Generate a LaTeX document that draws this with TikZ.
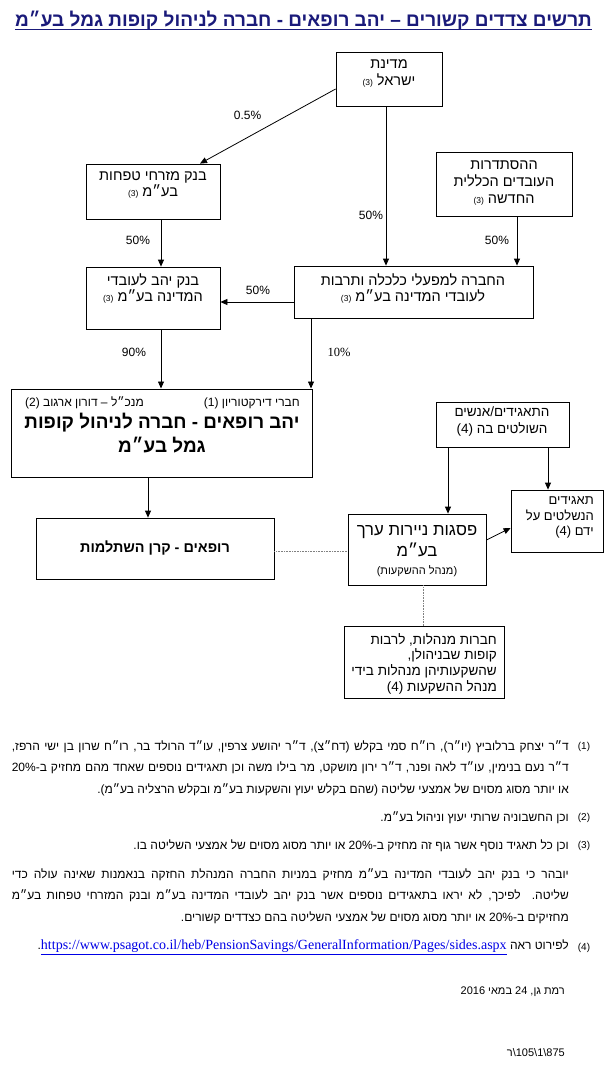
\documentclass[tikz,border=0pt]{standalone}
\usepackage{fontspec}
\setmainfont{Liberation Sans}
\newfontfamily\heb[Script=Hebrew]{Liberation Sans}
\newfontfamily\latserif{Liberation Serif}
\TeXXeTstate=1
\usetikzlibrary{arrows.meta}
\definecolor{navy}{RGB}{26,26,122}
\definecolor{linkblue}{RGB}{0,0,230}
\newcommand\RL[1]{\beginR #1\endR}
\newcommand\JL[1]{\hbox to 557pt{\spaceskip=0.278em plus 0.25em minus 0.13em\beginR #1\endR}}
\newcommand\nt[1]{{\fontsize{8.5}{9}\selectfont #1}}
\begin{document}
\begin{tikzpicture}[x=1pt,y=-1pt,
  box/.style={draw, line width=0.8pt, inner sep=0pt},
  arr/.style={-{Triangle[length=7pt,width=6pt]}, line width=0.8pt},
  dot/.style={line width=0.5pt, dash pattern=on 0.8pt off 0.8pt, draw=gray},
  txt/.style={inner sep=0pt, font=\heb\fontsize{14.5}{17}\selectfont, align=center},
  pct/.style={inner sep=0pt, font=\heb\fontsize{12}{13}\selectfont},
  fn/.style={inner sep=0pt, font=\heb\fontsize{12}{14}\selectfont, anchor=east},
  fnum/.style={inner sep=0pt, font=\heb\fontsize{10}{11}\selectfont}
]
\useasboundingbox (0,0) rectangle (610,1067);
\fill[white] (0,0) rectangle (610,1067);

% title
\node[inner sep=0pt, font=\heb\bfseries\fontsize{19}{22}\selectfont, text=navy, anchor=base] (title) at (303.5,27)
  {\RL{תרשים צדדים קשורים – יהב רופאים - חברה לניהול קופות גמל בע״מ}};
\draw[navy, line width=1.1pt] ([yshift=-2.5pt]title.base west) -- ([yshift=-2.5pt]title.base east);

% boxes
\node[box, minimum width=106pt, minimum height=54pt] (medina) at (389,79) {};
\node[box, minimum width=136pt, minimum height=64pt] (histadrut) at (504,184) {};
\node[box, minimum width=134pt, minimum height=55pt] (mizrahi) at (153,191.5) {};
\node[box, minimum width=134pt, minimum height=62pt] (yahavbank) at (153,298) {};
\node[box, minimum width=239pt, minimum height=52pt] (hevra) at (413.5,292) {};
\node[box, line width=1pt, minimum width=301pt, minimum height=88pt] (rofim) at (161.5,433) {};
\node[box, minimum width=238pt, minimum height=61pt] (keren) at (155,548.5) {};
\node[box, minimum width=133pt, minimum height=45pt] (taagidim) at (502.5,424.5) {};
\node[box, minimum width=138pt, minimum height=71pt] (psagot) at (417,549.5) {};
\node[box, minimum width=92pt, minimum height=62pt] (nishlatim) at (557,521) {};
\node[box, minimum width=160pt, minimum height=72pt] (hevrot) at (424,662) {};

% box texts
\node[txt] (tmedina) at (389,73.5) {\RL{מדינת}\\\RL{ישראל \nt{(3)}}};
\node[txt] (thistadrut) at (504,183) {\RL{ההסתדרות}\\\RL{העובדים הכללית}\\\RL{החדשה \nt{(3)}}};
\node[txt, font=\heb\fontsize{14.5}{16}\selectfont] (tmizrahi) at (153,185) {\RL{בנק מזרחי טפחות}\\\RL{בע״מ \nt{(3)}}};
\node[txt, font=\heb\fontsize{14.5}{16}\selectfont] (tyahav) at (153,288) {\RL{בנק יהב לעובדי}\\\RL{המדינה בע״מ \nt{(3)}}};
\node[txt, font=\heb\fontsize{14.5}{16}\selectfont] (thevra) at (413,288) {\RL{החברה למפעלי כלכלה ותרבות}\\\RL{לעובדי המדינה בע״מ \nt{(3)}}};
\node[inner sep=0pt, anchor=east, font=\heb\fontsize{12}{13}\selectfont] (tdir) at (300,403) {\RL{חברי דירקטוריון (1)}};
\node[inner sep=0pt, anchor=west, font=\heb\fontsize{12}{13}\selectfont] (tmankal) at (25,403) {\RL{מנכ״ל – דורון ארגוב (2)}};
\node[inner sep=0pt, align=center, font=\heb\bfseries\fontsize{18.9}{24}\selectfont] (trofim) at (162,433)
  {\RL{יהב רופאים - חברה לניהול קופות}\\\RL{גמל בע״מ}};
\node[inner sep=0pt, font=\heb\bfseries\fontsize{14.4}{16}\selectfont] (tkeren) at (155,548) {\RL{רופאים - קרן השתלמות}};
\node[txt, font=\heb\fontsize{13.5}{17}\selectfont] (ttaagidim) at (502,421.5) {\RL{התאגידים/אנשים}\\\RL{השולטים בה (4)}};
\node[txt, font=\heb\fontsize{16.7}{21}\selectfont] (tpsagot) at (417,541.5) {\RL{פסגות ניירות ערך}\\\RL{בע״מ}};
\node[inner sep=0pt, font=\heb\fontsize{11}{13}\selectfont] (tpsagot2) at (417,571) {\RL{(מנהל ההשקעות)}};
\node[txt, align=right, anchor=east, font=\heb\fontsize{13}{15.5}\selectfont] (tnishlatim) at (594,517.5) {\RL{תאגידים}\\\RL{הנשלטים על}\\\RL{ידם (4)}};
\node[txt, align=right, anchor=east, font=\heb\fontsize{13.5}{15.7}\selectfont] (thevrot) at (497,663.5) {\RL{חברות מנהלות, לרבות}\\\RL{קופות שבניהולן,}\\\RL{שהשקעותיהן מנהלות בידי}\\\RL{מנהל ההשקעות (4)}};

% arrows
\draw[arr] (medina.west |- 0,89) -- (mizrahi.north -| 200,0);
\draw[arr] (medina.south -| 386,0) -- (hevra.north -| 386,0);
\draw[arr] (histadrut.south -| 517,0) -- (hevra.north -| 517,0);
\draw[arr] (mizrahi.south -| 161,0) -- (yahavbank.north -| 161,0);
\draw[arr] (hevra.west |- 0,302) -- (yahavbank.east |- 0,302);
\draw[arr] (yahavbank.south -| 161,0) -- (rofim.north -| 161,0);
\draw[arr] (hevra.south -| 311,0) -- (rofim.north -| 311,0);
\draw[arr] (rofim.south -| 148,0) -- (keren.north -| 148,0);
\draw[arr] (taagidim.south -| 448,0) -- (psagot.north -| 448,0);
\draw[arr] (taagidim.south -| 548,0) -- (nishlatim.north -| 548,0);
\draw[arr] (psagot.east |- 0,540) -- (nishlatim.west |- 0,528);
\draw[dot] (keren.east |- 0,551) -- (psagot.west |- 0,551);
\draw[dot] (psagot.south -| 423,0) -- (hevrot.north -| 423,0);

% percentages
\node[pct] (p1) at (247.5,115) {0.5\%};
\node[pct] (p2) at (371,215) {50\%};
\node[pct] (p3) at (497,240) {50\%};
\node[pct] (p4) at (138,240) {50\%};
\node[pct] (p5) at (258,290) {50\%};
\node[pct] (p6) at (134,352) {90\%};
\node[pct, font=\latserif\fontsize{12.5}{13}\selectfont] (p7) at (339,352) {10\%};

% footnotes
\node[fnum] (n1) at (584,747) {(1)};
\node[fn] (f1a) at (569,747) {\JL{ד״ר יצחק ברלוביץ (יו״ר), רו״ח סמי בקלש (דח״צ), ד״ר יהושע צרפין, עו״ד הרולד בר, רו״ח שרון בן ישי הרפז,}};
\node[fn] (f1b) at (569,768) {\JL{ד״ר נעם בנימין, עו״ד לאה ופנר, ד״ר ירון מושקט, מר בילו משה וכן תאגידים נוספים שאחד מהם מחזיק ב-20\%}};
\node[fn] (f1c) at (569,790) {\RL{או יותר מסוג מסוים של אמצעי שליטה (שהם בקלש יעוץ והשקעות בע״מ ובקלש הרצליה בע״מ).}};
\node[fnum] (n2) at (584,818) {(2)};
\node[fn] (f2) at (569,818) {\RL{וכן החשבוניה שרותי יעוץ וניהול בע״מ.}};
\node[fnum] (n3) at (584,846) {(3)};
\node[fn] (f3) at (569,846) {\RL{וכן כל תאגיד נוסף אשר גוף זה מחזיק ב-20\% או יותר מסוג מסוים של אמצעי השליטה בו.}};
\node[fn] (pa) at (569,875) {\JL{יובהר כי בנק יהב לעובדי המדינה בע״מ מחזיק במניות החברה המנהלת החזקה בנאמנות שאינה עולה כדי}};
\node[fn] (pb) at (569,896) {\JL{שליטה. לפיכך, לא יראו בתאגידים נוספים אשר בנק יהב לעובדי המדינה בע״מ ובנק המזרחי טפחות בע״מ}};
\node[fn] (pc) at (569,917.5) {\RL{מחזיקים ב-20\% או יותר מסוג מסוים של אמצעי השליטה בהם כצדדים קשורים.}};
\node[fnum] (n4) at (584,947.5) {(4)};
\node[fn] (f4) at (569,947.5) {\beginR לפירוט ראה \beginL .\textcolor{linkblue}{\underline{\latserif\fontsize{14}{15}\selectfont https://www.psagot.co.il/heb/PensionSavings/GeneralInformation/Pages/sides.aspx}}\endL\endR};
\node[fn, font=\heb\fontsize{11}{13}\selectfont] (date) at (565,992) {\RL{רמת גן, 24 במאי 2016}};
\node[fn, font=\heb\fontsize{11}{13}\selectfont] (ref) at (565,1053) {875\textbackslash 1\textbackslash 105\textbackslash ר};
\end{tikzpicture}
\end{document}
